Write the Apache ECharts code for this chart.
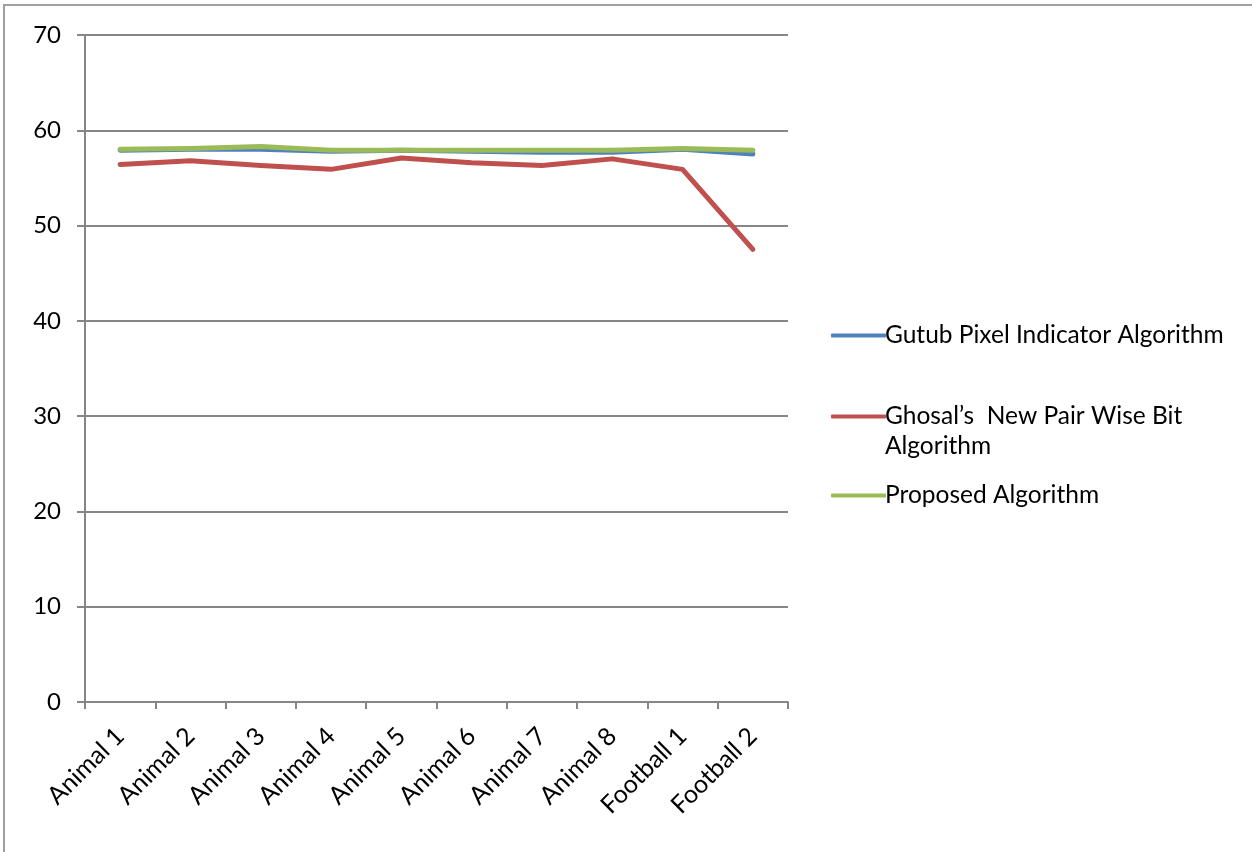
<!DOCTYPE html>
<html>
<head>
<meta charset="utf-8">
<script src="https://cdn.jsdelivr.net/npm/echarts@6/dist/echarts.min.js"></script>
<style>
  html, body { margin: 0; padding: 0; background: #fff; }
  #chart { width: 1252px; height: 852px; }
</style>
</head>
<body>
<div id="chart"></div>
<script>
const categories = [
  'Animal 1', 'Animal 2', 'Animal 3', 'Animal 4', 'Animal 5',
  'Animal 6', 'Animal 7', 'Animal 8', 'Football 1', 'Football 2'
]

const gutub = [57.9, 58.0, 58.0, 57.8, 57.9, 57.8, 57.7, 57.7, 58.0, 57.5]
const ghosal = [56.4, 56.8, 56.3, 55.9, 57.1, 56.6, 56.3, 57.0, 55.9, 47.5]
const proposed = [58.0, 58.1, 58.3, 57.9, 57.9, 57.9, 57.9, 57.9, 58.1, 57.9]

const yTicks = [0, 10, 20, 30, 40, 50, 60, 70]

const FONT = 'Lato'
const GREY = '#868686'

const legends = [
  { name: 'Gutub Pixel Indicator Algorithm', color: '#4f81bd', data: gutub, top: 318 },
  { name: 'Ghosal’s  New Pair Wise Bit', color: '#c0504d', data: ghosal, top: 399 },
  { name: 'Proposed Algorithm', color: '#9bbb59', data: proposed, top: 478 }
]

const chart = echarts.init(document.getElementById('chart'))

chart.setOption({
  animation: false,
  backgroundColor: '#fff',

  grid: {
    left: 85,
    right: 464,
    top: 35,
    bottom: 150
  },

  legend: legends.map(item => ({
    left: 826,
    top: item.top,
    itemWidth: 55,
    itemHeight: 4,
    itemGap: 0,
    icon: 'roundRect',
    textStyle: {
      color: '#000',
      fontFamily: FONT,
      fontSize: 24.5,
      padding: [0, 0, 0, -6]
    },
    data: [item.name]
  })),

  graphic: [
    {
      type: 'rect',
      shape: { x: 4, y: 5, width: 1300, height: 900 },
      style: { fill: 'none', stroke: '#a0a0a0', lineWidth: 2 }
    },
    {
      type: 'text',
      left: 885,
      top: 434,
      style: {
        text: 'Algorithm',
        fill: '#000',
        font: '24.5px ' + FONT
      }
    }
  ],

  xAxis: {
    type: 'category',
    data: categories,
    boundaryGap: true,
    axisLine: { lineStyle: { color: GREY, width: 2 } },
    axisTick: { show: true, length: 7, lineStyle: { color: GREY, width: 2 } },
    axisLabel: {
      rotate: 45,
      color: '#000',
      fontFamily: FONT,
      fontSize: 25,
      margin: 30
    }
  },

  yAxis: {
    type: 'value',
    min: yTicks[0],
    max: yTicks[yTicks.length - 1],
    interval: 10,
    axisLine: { show: true, lineStyle: { color: GREY, width: 2 } },
    axisTick: { show: true, length: 8, lineStyle: { color: GREY, width: 2 } },
    axisLabel: {
      color: '#000',
      fontFamily: FONT,
      fontSize: 24,
      margin: 24
    },
    splitLine: { lineStyle: { color: GREY, width: 2 } }
  },

  series: legends.map(item => ({
    name: item.name,
    type: 'line',
    data: item.data,
    symbol: 'none',
    lineStyle: { width: 5, color: item.color, cap: 'round', join: 'round' },
    itemStyle: { color: item.color }
  }))
})
</script>
</body>
</html>
